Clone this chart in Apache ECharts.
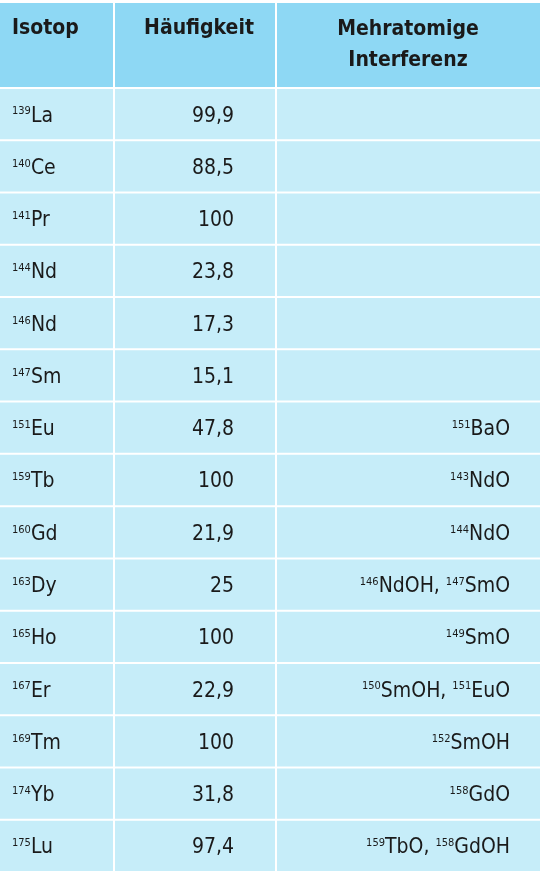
<!DOCTYPE html>
<html lang="de">
<head>
<meta charset="UTF-8">
<title>Isotope</title>
<script src="https://cdn.jsdelivr.net/npm/echarts@6/dist/echarts.min.js"></script>
<style>body{margin:0;background:#fff}#main{width:540px;height:879px}</style>
</head>
<body>
<div id="main"></div>
<script>
// Tabellendaten
var massen = ['139','140','141','144','146','147','151','159','160','163','165','167','169','174','175'];
var elemente = ['La','Ce','Pr','Nd','Nd','Sm','Eu','Tb','Gd','Dy','Ho','Er','Tm','Yb','Lu'];
var haeufigkeit = ['99,9','88,5','100','23,8','17,3','15,1','47,8','100','21,9','25','100','22,9','100','31,8','97,4'];
// Interferenzen: Paare [Masse, Formel]
var interferenz = [[],[],[],[],[],[],
  [['151','BaO']],[['143','NdO']],[['144','NdO']],
  [['146','NdOH'],['147','SmO']],[['149','SmO']],
  [['150','SmOH'],['151','EuO']],[['152','SmOH']],[['158','GdO']],
  [['159','TbO'],['158','GdOH']]];
var kopf = ['Isotop','Häufigkeit','Mehratomige\nInterferenz'];

var FONT = '"Liberation Sans Narrow","DejaVu Sans Condensed","Roboto",sans-serif';
var colX = [0, 115, 277, 542]; // Spaltengrenzen
var rich = {
  s: {fontSize: 11, padding: [0, 0, 9, 0], fontFamily: FONT, fill: '#1a1a1a'},
  n: {fontSize: 21, fontFamily: FONT, fill: '#1a1a1a'}
};

var rows = massen.map(function (m, i) { return [i, i]; });

var myChart = echarts.init(document.getElementById('main'));
var option = {
  animation: false,
  grid: {left: 0, right: 0, top: 89, bottom: 6},
  xAxis: {type: 'value', min: 0, max: 540, show: false},
  yAxis: {type: 'category', data: massen.map(function (m, i) { return m + elemente[i]; }), inverse: true, show: false},
  graphic: [
    {type: 'rect', shape: {x: colX[0], y: 3, width: 113, height: 84}, style: {fill: '#8ed8f4'}},
    {type: 'rect', shape: {x: colX[1], y: 3, width: 160, height: 84}, style: {fill: '#8ed8f4'}},
    {type: 'rect', shape: {x: colX[2], y: 3, width: 263, height: 84}, style: {fill: '#8ed8f4'}},
    {type: 'text', x: 12, y: 18, style: {text: kopf[0], font: 'bold 21px ' + FONT, fill: '#1a1a1a'}},
    {type: 'text', x: 199, y: 18, style: {text: kopf[1], font: 'bold 21px ' + FONT, fill: '#1a1a1a', textAlign: 'center'}},
    {type: 'text', x: 408, y: 14, style: {text: kopf[2], font: 'bold 21px ' + FONT, fill: '#1a1a1a', textAlign: 'center', lineHeight: 31}}
  ],
  series: [{
    type: 'custom',
    data: rows,
    encode: {y: 1},
    renderItem: function (params, api) {
      var i = api.value(0);
      var p = api.coord([0, i]);
      var h = api.size([0, 1])[1];
      var top = p[1] - h / 2;
      var children = [];
      for (var c = 0; c < 3; c++) {
        children.push({type: 'rect', shape: {x: colX[c], y: top, width: colX[c + 1] - colX[c] - 2, height: h - 2},
          style: {fill: '#c6edf9'}});
      }
      var cy = top + h / 2 + 1;
      children.push({type: 'text', x: 12, y: cy, style: {text: '{s|' + massen[i] + '}{n|' + elemente[i] + '}', rich: rich, verticalAlign: 'middle'}});
      children.push({type: 'text', x: 234, y: cy, style: {text: '{n|' + haeufigkeit[i] + '}', rich: rich, align: 'right', verticalAlign: 'middle'}});
      if (interferenz[i].length) {
        var t = interferenz[i].map(function (q) { return '{s|' + q[0] + '}{n|' + q[1] + '}'; }).join('{n|, }');
        children.push({type: 'text', x: 510, y: cy, style: {text: t, rich: rich, align: 'right', verticalAlign: 'middle'}});
      }
      return {type: 'group', children: children};
    }
  }]
};
myChart.setOption(option);
</script>
</body>
</html>
